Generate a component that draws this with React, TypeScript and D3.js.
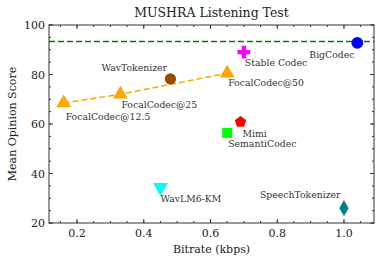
import React from "react";
import * as d3 from "d3";

const names = ["FocalCodec@12.5", "FocalCodec@25", "FocalCodec@50", "WavTokenizer", "Stable Codec", "BigCodec", "Mimi", "SemantiCodec", "WavLM6-KM", "SpeechTokenizer"];
const bitrates = [0.16, 0.33, 0.65, 0.48, 0.7, 1.04, 0.69, 0.65, 0.45, 1.0];
const scores = [68.5, 72, 80.5, 78.2, 89, 92.8, 60.8, 56.4, 34.4, 26];
const groundTruth = 93.3;
const xTicks = [0.2, 0.4, 0.6, 0.8, 1.0];
const yTicks = [20, 40, 60, 80, 100];

// marker style per point
const markers = [
  { sym: d3.symbolTriangle, color: "#FFA500", size: 95, rot: 0 },
  { sym: d3.symbolTriangle, color: "#FFA500", size: 95, rot: 0 },
  { sym: d3.symbolTriangle, color: "#FFA500", size: 95, rot: 0 },
  { sym: d3.symbolCircle, color: "#9A4B00", size: 100, rot: 0 },
  { sym: d3.symbolCross, color: "#FF00FF", size: 90, rot: 0 },
  { sym: d3.symbolCircle, color: "#0000FF", size: 110, rot: 0 },
  { sym: "pentagon", color: "#FF0000", size: 85, rot: 0 },
  { sym: d3.symbolSquare, color: "#00FF00", size: 100, rot: 0 },
  { sym: d3.symbolTriangle, color: "#00FFFF", size: 95, rot: 180 },
  { sym: d3.symbolDiamond, color: "#008080", size: 75, rot: 0 },
];
// label offsets from the marker (px)
const labelOffsets = [
  [2, 17], [1, 14], [1, 13], [-69, -8], [1, 14], [-48, 15], [2, 15], [1, 14], [0, 15], [-84, -10],
];

const W = 380, H = 265;
const m = { left: 49, right: 6, top: 25, bottom: 42 };
const font = "'DejaVu Serif', serif";

const pentagon = (size: number) => {
  const r = Math.sqrt(size / 2.38);
  return d3.range(5).map(i => {
    const a = -Math.PI / 2 + (i * 2 * Math.PI) / 5;
    return [r * Math.cos(a), r * Math.sin(a)];
  }).map(p => p.join(",")).join(" ");
};

export default function App() {
  const x = d3.scaleLinear().domain([0.116, 1.09]).range([m.left, W - m.right]);
  const y = d3.scaleLinear().domain([20, 100]).range([H - m.bottom, m.top]);
  const xMinor = d3.range(0.15, 1.09, 0.05).filter(v => x(v) > m.left + 1);
  const yMinor = d3.range(20, 100.1, 5);
  const focal = [0, 1, 2];
  const line = d3.line<number>().x(i => x(bitrates[i])).y(i => y(scores[i]));
  const x0 = m.left, x1 = W - m.right, y0 = H - m.bottom, y1 = m.top;

  return (
    <svg width={W} height={H} style={{ position: "absolute", left: 0, top: 0, background: "#fff" }} fontFamily={font} fill="#222">
      <text x={(x0 + x1) / 2} y={17} textAnchor="middle" fontSize={12.5}>MUSHRA Listening Test</text>
      <line x1={x0} x2={x1} y1={y(groundTruth)} y2={y(groundTruth)} stroke="#008000" strokeWidth={1.5} strokeDasharray="6,3" />
      <path d={line(focal) || ""} fill="none" stroke="#FFA500" strokeWidth={1.5} strokeDasharray="6,3" />
      {names.map((n, i) => {
        const mk = markers[i];
        const cx = x(bitrates[i]), cy = y(scores[i]);
        return (
          <g key={n}>
            {mk.sym === "pentagon" ? (
              <polygon points={pentagon(mk.size)} transform={`translate(${cx},${cy})`} fill={mk.color} />
            ) : (
              <path d={d3.symbol(mk.sym as d3.SymbolType, mk.size)() || ""} transform={`translate(${cx},${cy}) rotate(${mk.rot})`} fill={mk.color} />
            )}
            <text x={cx + labelOffsets[i][0]} y={cy + labelOffsets[i][1]} fontSize={9.3} fill="#333">{n}</text>
          </g>
        );
      })}
      {/* frame */}
      <rect x={x0} y={y1} width={x1 - x0} height={y0 - y1} fill="none" stroke="#333" strokeWidth={1} />
      {xTicks.map(t => (
        <g key={"x" + t}>
          <line x1={x(t)} x2={x(t)} y1={y0} y2={y0 - 4} stroke="#333" />
          <line x1={x(t)} x2={x(t)} y1={y1} y2={y1 + 4} stroke="#333" />
          <text x={x(t)} y={y0 + 13.5} textAnchor="middle" fontSize={11}>{t.toFixed(1)}</text>
        </g>
      ))}
      {xMinor.map(t => (
        <g key={"xm" + t}>
          <line x1={x(t)} x2={x(t)} y1={y0} y2={y0 - 2} stroke="#333" />
          <line x1={x(t)} x2={x(t)} y1={y1} y2={y1 + 2} stroke="#333" />
        </g>
      ))}
      {yTicks.map(t => (
        <g key={"y" + t}>
          <line x1={x0} x2={x0 + 4} y1={y(t)} y2={y(t)} stroke="#333" />
          <line x1={x1} x2={x1 - 4} y1={y(t)} y2={y(t)} stroke="#333" />
          <text x={x0 - 4} y={y(t) + 4} textAnchor="end" fontSize={11}>{t}</text>
        </g>
      ))}
      {yMinor.map(t => (
        <g key={"ym" + t}>
          <line x1={x0} x2={x0 + 2} y1={y(t)} y2={y(t)} stroke="#333" />
          <line x1={x1} x2={x1 - 2} y1={y(t)} y2={y(t)} stroke="#333" />
        </g>
      ))}
      <text x={(x0 + x1) / 2} y={253} textAnchor="middle" fontSize={11}>Bitrate (kbps)</text>
      <text transform={`translate(15.5,${(y0 + y1) / 2}) rotate(-90)`} textAnchor="middle" fontSize={11}>Mean Opinion Score</text>
    </svg>
  );
}
